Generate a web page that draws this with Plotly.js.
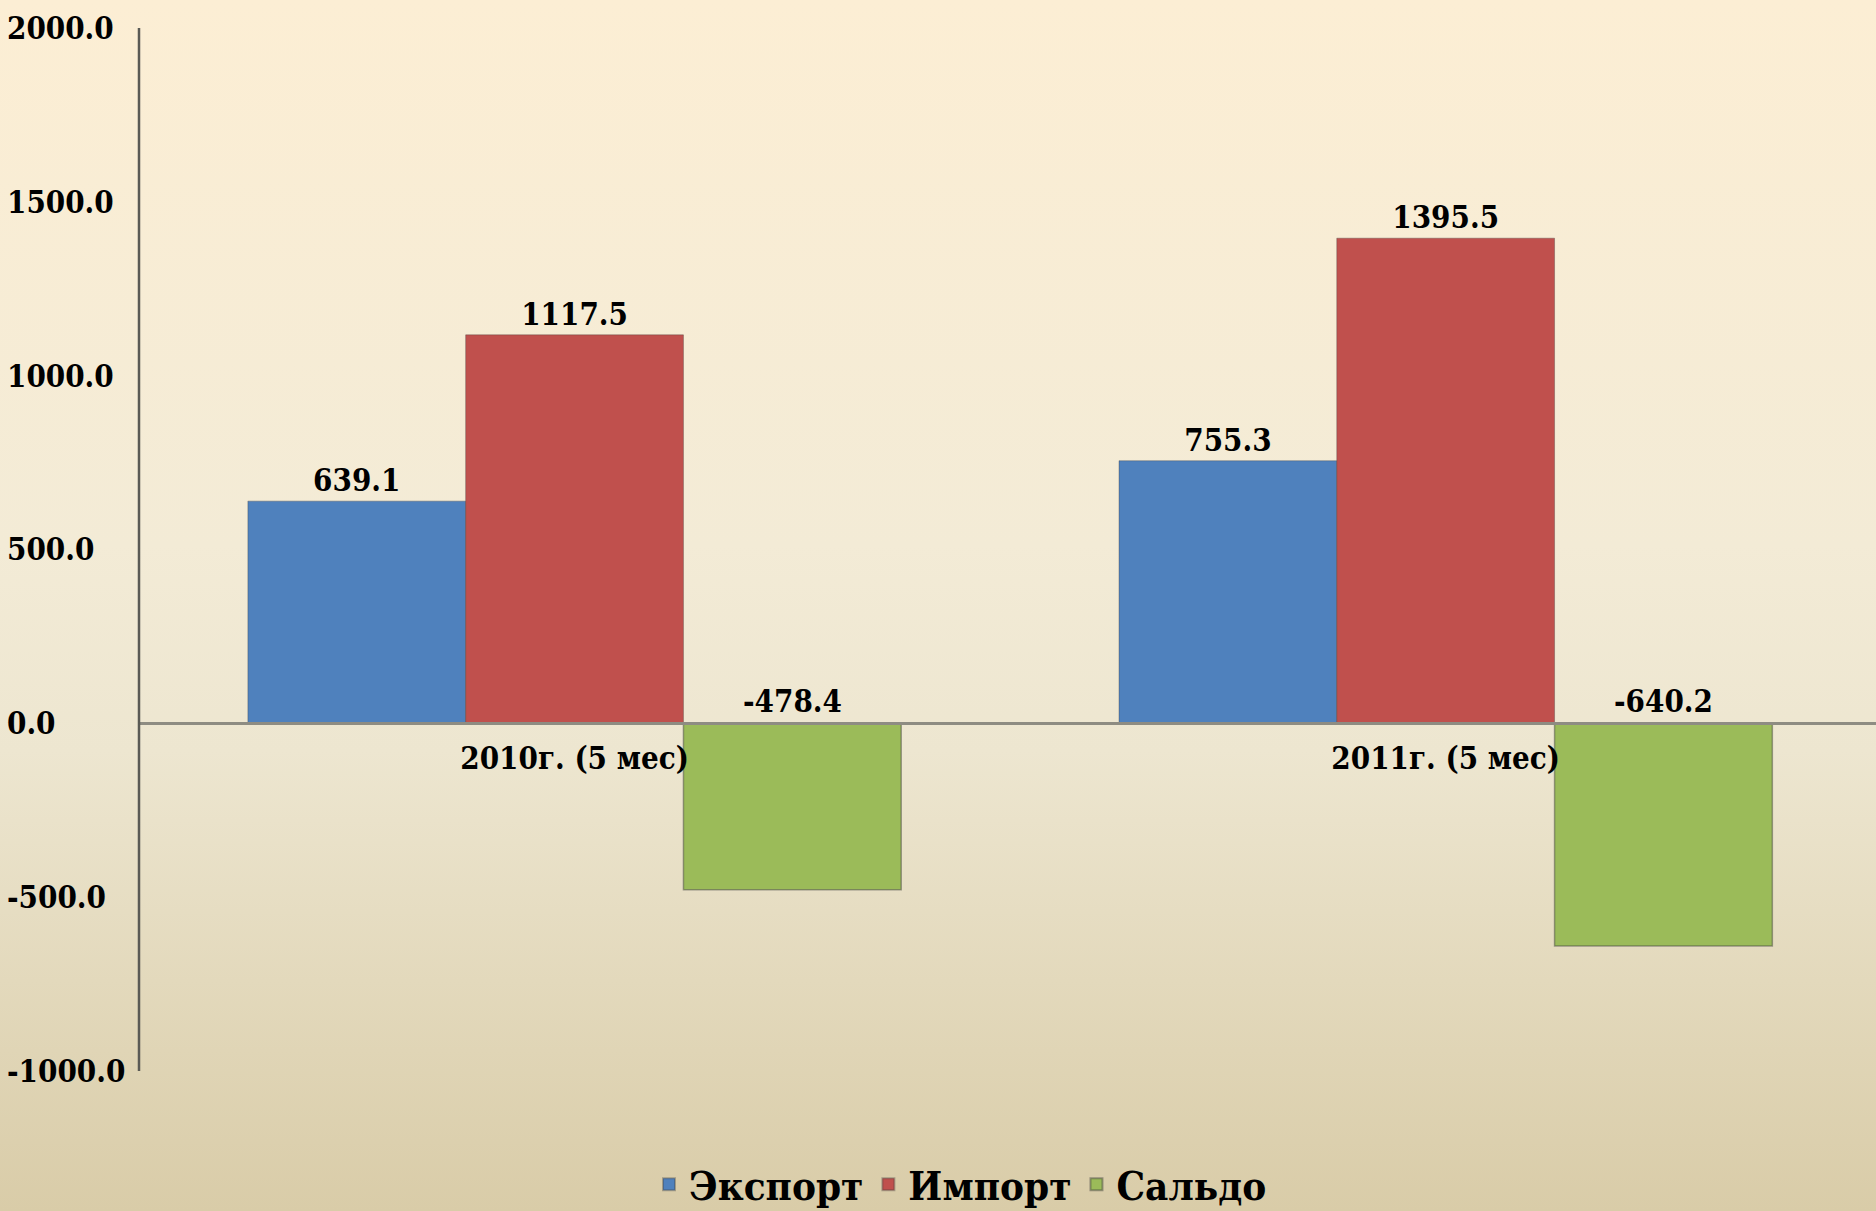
<!DOCTYPE html>
<html>
<head>
<meta charset="utf-8">
<script src="https://cdn.plot.ly/plotly-3.0.1.min.js"></script>
<style>
  html, body { margin: 0; padding: 0; }
  body {
    width: 1876px; height: 1211px; overflow: hidden;
    background: linear-gradient(to bottom, #FCEED4 0%, #F3EBD6 45%, #EDE6D0 62%, #D9CCA8 100%);
  }
  #chart { width: 1876px; height: 1211px; }
</style>
</head>
<body>
<div id="chart"></div>
<script>
// ---- data ----
const categories = ['2010г. (5 мес)', '2011г. (5 мес)'];
const seriesNames = ['Экспорт', 'Импорт', 'Сальдо'];
const exportVals = [639.1, 755.3];
const importVals = [1117.5, 1395.5];
const saldoVals = [-478.4, -640.2];
const yTickVals = [-1000, -500, 0, 500, 1000, 1500, 2000];
const yTickText = ['-1000.0', '-500.0', '0.0', '500.0', '1000.0', '1500.0', '2000.0'];

// ---- style ----
const FONT = '"DejaVu Serif Condensed", "DejaVu Serif", "Liberation Serif", serif';
const labelFont = { family: FONT, size: 31, color: '#000', weight: 'bold' };
const colors = ['#4F81BD', '#C0504D', '#9BBB59'];
const W = 1876;
const axisX = 139 / W;

const fmt = v => v.toFixed(1);

const traces = [
  {
    type: 'bar', name: seriesNames[0], x: categories, y: exportVals,
    marker: { color: colors[0], line: { color: 'rgba(60,60,60,0.35)', width: 1 } },
    text: exportVals.map(fmt), textposition: 'outside', cliponaxis: false,
    constraintext: 'none', textfont: labelFont, hoverinfo: 'skip'
  },
  {
    type: 'bar', name: seriesNames[1], x: categories, y: importVals,
    marker: { color: colors[1], line: { color: 'rgba(60,60,60,0.35)', width: 1 } },
    text: importVals.map(fmt), textposition: 'outside', cliponaxis: false,
    constraintext: 'none', textfont: labelFont, hoverinfo: 'skip'
  },
  {
    type: 'bar', name: seriesNames[2], x: categories, y: saldoVals,
    marker: { color: colors[2], line: { color: 'rgba(60,60,60,0.45)', width: 1.5 } },
    textposition: 'none', hoverinfo: 'skip'
  }
];

// Saldo labels sit above the zero line (at the bar base), as in the original
const annotations = saldoVals.map((v, i) => ({
  x: i + 0.25, y: 0, xref: 'x', yref: 'y',
  text: fmt(v), showarrow: false, yanchor: 'bottom', yshift: 2,
  font: labelFont
}));

const layout = {
  width: 1876, height: 1211,
  margin: { l: 0, r: 0, t: 28, b: 140 },
  paper_bgcolor: 'rgba(0,0,0,0)',
  plot_bgcolor: 'rgba(0,0,0,0)',
  barmode: 'group', bargap: 0.25, bargroupgap: 0,
  showlegend: true,
  legend: {
    orientation: 'h', xref: 'container', yref: 'container',
    x: 0.512, xanchor: 'center', y: 0.022, yanchor: 'middle',
    font: { family: FONT, size: 40, color: '#000', weight: 'bold' },
    itemsizing: 'constant', traceorder: 'normal', itemwidth: 30
  },
  xaxis: {
    type: 'category', domain: [axisX, 1], range: [-0.5, 1.494],
    anchor: 'free', position: 1 / 3,
    showline: true, linecolor: '#8E8C82', linewidth: 3,
    showgrid: false, zeroline: false, ticks: '',
    tickfont: labelFont, ticklabelstandoff: 6, fixedrange: true
  },
  yaxis: {
    range: [-1000, 2000], anchor: 'free', position: 6 / W, side: 'right',
    showline: false, showgrid: false, zeroline: false, ticks: '',
    tickvals: yTickVals, ticktext: yTickText,
    tickfont: labelFont, fixedrange: true
  },
  shapes: [{
    type: 'line', xref: 'paper', yref: 'y',
    x0: axisX, x1: axisX, y0: -1000, y1: 2000,
    line: { color: '#5A5A55', width: 2.5 }, layer: 'above'
  }],
  annotations: annotations
};

Plotly.newPlot('chart', traces, layout, { displayModeBar: false, staticPlot: true });
</script>
</body>
</html>
